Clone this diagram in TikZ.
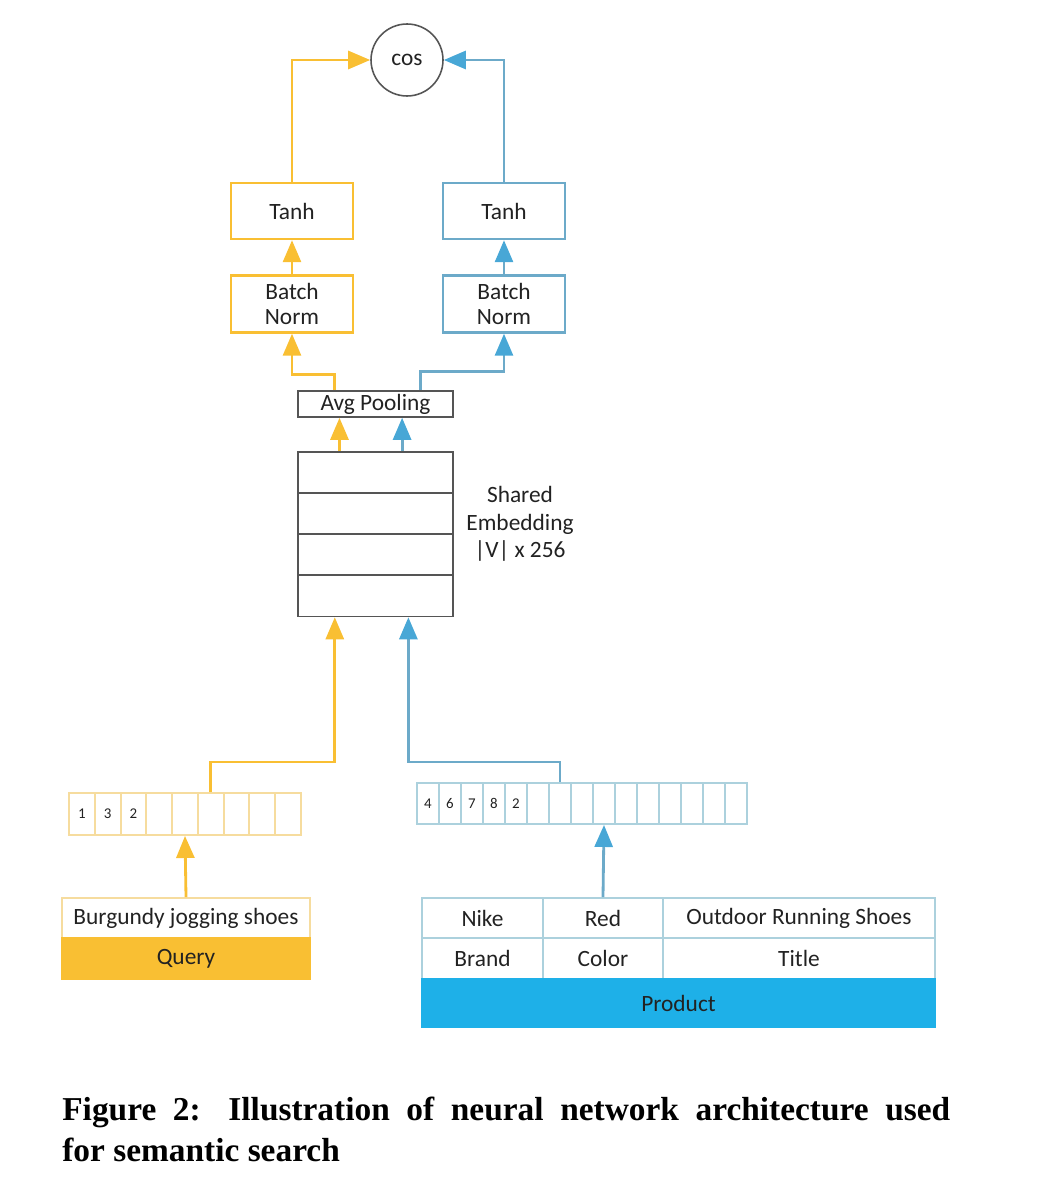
\documentclass[tikz,border=0pt]{standalone}
\usepackage{fontspec}
\setmainfont{Carlito}
\newfontfamily\capfont{Liberation Serif}
\usetikzlibrary{arrows.meta,calc}
\definecolor{qorange}{HTML}{F9BF33}
\definecolor{qlight}{HTML}{F6DC9E}
\definecolor{pline}{HTML}{6CAAC9}
\definecolor{ptip}{HTML}{48A7D6}
\definecolor{plight}{HTML}{ACD1DD}
\definecolor{pfill}{HTML}{1EB0E8}
\definecolor{embgray}{HTML}{555555}
\definecolor{txt}{HTML}{222222}
\tikzset{
  lbl/.style={text=txt, font=\fontsize{13.3}{15.5}\selectfont},
  qlayer/.style={lbl, draw=qorange, line width=1.4pt, minimum width=2.44cm, minimum height=1.12cm, align=center},
  player/.style={lbl, draw=pline, line width=1.4pt, minimum width=2.44cm, minimum height=1.12cm, align=center},
  embrow/.style={draw=embgray, line width=0.9pt, minimum width=3.1cm, minimum height=0.82cm},
  qcell/.style={text=txt, draw=qlight, line width=1.1pt, minimum width=0.516cm, minimum height=0.84cm, inner sep=0pt, font=\fontsize{8.5}{10}\selectfont},
  pcell/.style={text=txt, draw=plight, line width=1.1pt, minimum width=0.44cm, minimum height=0.82cm, inner sep=0pt, font=\fontsize{8.5}{10}\selectfont},
  qfield/.style={lbl, draw=qlight, line width=1.1pt, minimum width=4.96cm, minimum height=0.8cm},
  pfield/.style={lbl, draw=plight, line width=1.1pt, minimum height=0.8cm},
  qflow/.style={draw=qorange, line width=1.6pt, -{Triangle[length=0.44cm,width=0.36cm]}},
  pflow/.style={draw=pline, line width=1.6pt, -{Triangle[length=0.44cm,width=0.36cm,color=ptip]}}
}
\begin{document}
\begin{tikzpicture}[x=0.02cm, y=-0.02cm]
\useasboundingbox (0,0) rectangle (1050,1196);
%%% top of the network
\node[lbl, draw=embgray, circle, line width=0.9pt, minimum size=1.44cm, inner sep=0pt] (cos) at (407, 60) {cos};
\node[qlayer] (tanhq) at (292, 211) {Tanh};
\node[player] (tanhp) at (504, 211) {Tanh};
\node[qlayer, minimum height=1.14cm] (bnq) at (292, 304) {Batch\\[-1pt]Norm};
\node[player, minimum height=1.14cm] (bnp) at (504, 304) {Batch\\[-1pt]Norm};
\node[lbl, draw=embgray, line width=0.9pt, minimum width=3.1cm, minimum height=0.52cm, inner sep=0pt] (avg) at (375.5, 404) {Avg Pooling};
%%% shared embedding
\node[embrow] (emb1) at (375.5, 472.5) {};
\node[embrow] (emb2) at (375.5, 513.5) {};
\node[embrow] (emb3) at (375.5, 554.5) {};
\node[embrow] (emb4) at (375.5, 596) {};
\node[lbl, align=center, font=\fontsize{13.3}{15.6}\selectfont] (embtxt) at (520, 524) {Shared\\Embedding\\|V| x 256};
%%% query token ids
\node[qcell] (q1) at (81.9, 814) {1};
\node[qcell] (q2) at (107.7, 814) {3};
\node[qcell] (q3) at (133.5, 814) {2};
\node[qcell] (q4) at (159.2, 814) {};
\node[qcell] (q5) at (185.0, 814) {};
\node[qcell] (q6) at (210.8, 814) {};
\node[qcell] (q7) at (236.6, 814) {};
\node[qcell] (q8) at (262.3, 814) {};
\node[qcell] (q9) at (288.1, 814) {};
%%% product token ids
\node[pcell] (p1) at (428, 803.5) {4};
\node[pcell] (p2) at (450, 803.5) {6};
\node[pcell] (p3) at (472, 803.5) {7};
\node[pcell] (p4) at (494, 803.5) {8};
\node[pcell] (p5) at (516, 803.5) {2};
\node[pcell] (p6) at (538, 803.5) {};
\node[pcell] (p7) at (560, 803.5) {};
\node[pcell] (p8) at (582, 803.5) {};
\node[pcell] (p9) at (604, 803.5) {};
\node[pcell] (p10) at (626, 803.5) {};
\node[pcell] (p11) at (648, 803.5) {};
\node[pcell] (p12) at (670, 803.5) {};
\node[pcell] (p13) at (692, 803.5) {};
\node[pcell] (p14) at (714, 803.5) {};
\node[pcell] (p15) at (736, 803.5) {};
%%% query input
\node[qfield] (qtext) at (186, 918) {Burgundy jogging shoes};
\node[qfield, fill=qorange, draw=qorange, minimum height=0.82cm] (query) at (186, 958.5) {Query};
%%% product input
\node[pfield, minimum width=2.42cm] (brandval) at (482.5, 918) {Nike};
\node[pfield, minimum width=2.4cm] (colorval) at (603, 918) {Red};
\node[pfield, minimum width=5.44cm] (titleval) at (799, 918) {Outdoor Running Shoes};
\node[pfield, minimum width=2.42cm] (brand) at (482.5, 958.5) {Brand};
\node[pfield, minimum width=2.4cm] (color) at (603, 958.5) {Color};
\node[pfield, minimum width=5.44cm] (title) at (799, 958.5) {Title};
\node[pfield, fill=pfill, draw=pfill, minimum width=10.26cm, minimum height=0.96cm] (product) at (678.5, 1003) {Product};
%Dependency between inputs and token ids
\draw[qflow] (qtext.north) to (q5.south);
\draw[pflow] (colorval.north) to (p9.south);
%Dependency between token ids and embedding
\draw[qflow] (q6.north) -- ++(0,-30) -| ($(emb4.south west)!0.24!(emb4.south east)$);
\draw[pflow] (p7.north) -- ++(0,-20) -| ($(emb4.south west)!0.71!(emb4.south east)$);
%Dependency between embedding and pooling
\draw[qflow] ($(emb1.north west)!0.27!(emb1.north east)$) to ($(avg.south west)!0.27!(avg.south east)$);
\draw[pflow] ($(emb1.north west)!0.67!(emb1.north east)$) to ($(avg.south west)!0.67!(avg.south east)$);
%Dependency between pooling and batch norm
\draw[qflow] ($(avg.north west)!0.24!(avg.north east)$) -- ++(0,-16) -| (bnq.south);
\draw[pflow] ($(avg.north west)!0.79!(avg.north east)$) -- ++(0,-19) -| (bnp.south);
%Dependency between batch norm and tanh
\draw[qflow] (bnq.north) to (tanhq.south);
\draw[pflow] (bnp.north) to (tanhp.south);
%Dependency between tanh and cos
\draw[qflow] (tanhq.north) |- (cos.west);
\draw[pflow] (tanhp.north) |- (cos.east);
%%% caption
\node[anchor=north west, inner sep=0pt, text width=17.76cm, align=justify, font=\capfont\bfseries\fontsize{19}{23}\selectfont] (caption) at (62, 1097) {Figure 2: Illustration of neural network architecture used\linebreak for semantic search};
\end{tikzpicture}
\end{document}
